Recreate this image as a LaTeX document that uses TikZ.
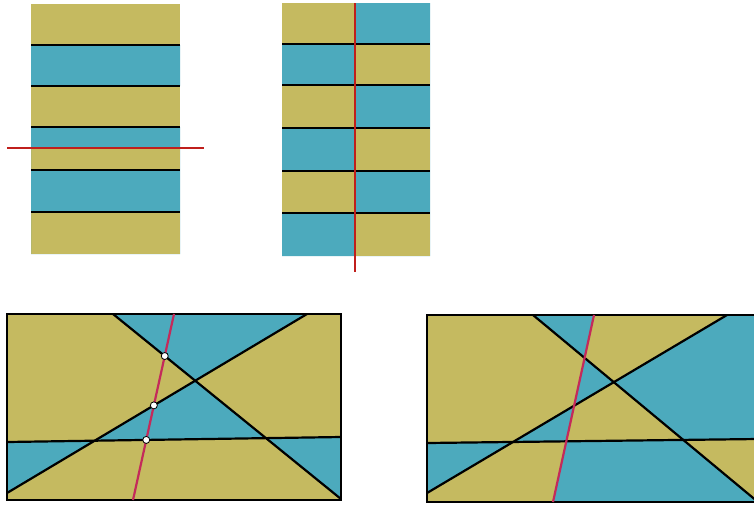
\documentclass[tikz,border=0pt]{standalone}
\usetikzlibrary{calc}
\definecolor{cyellow}{HTML}{C5BA60}
\definecolor{cblue}{HTML}{4CAABD}
\definecolor{cred}{HTML}{C01F1C}
\definecolor{cpink}{HTML}{C42A5A}
\tikzset{
  every picture/.style={line width=1.2pt},
  edge/.style={draw=black, line width=2.2pt},
  cut/.style={draw=#1, line width=2.2pt},
  cut/.default=cred,
  flip/.style={fill=cblue, even odd rule},
  dot/.style={circle, draw=black, fill=white, inner sep=0pt, minimum size=7pt, line width=0.8pt},
}
\begin{document}
\begin{tikzpicture}[x=1pt, y=-1pt]
  \useasboundingbox (0,0) rectangle (754,504);
  \clip (0,0) rectangle (754,504);

  \fill[cyellow] (31,4) rectangle (180,254);
  \fill[flip] (31,45) rectangle (180,86) (31,127) rectangle (180,170) (31,212) rectangle (180,254)
    (31,148) rectangle (180,254);
  \foreach \y in {45,86,127,170,212} \draw[edge] (31,\y) -- (180,\y);
  \coordinate (h1) at (7,148);
  \coordinate (h2) at (204,148);
  \draw[cut] (h1) -- (h2);

  \fill[cyellow] (282,3) rectangle (430,256);
  \fill[flip] (282,44) rectangle (430,85) (282,128) rectangle (430,171) (282,213) rectangle (430,256)
    (355,3) rectangle (430,256);
  \foreach \y in {44,85,128,171,213} \draw[edge] (282,\y) -- (430,\y);
  \coordinate (v1) at (355,3);
  \coordinate (v2) at (355,272);
  \draw[cut] (v1) -- (v2);

  \coordinate (la1) at (113,314);
  \coordinate (la2) at (341,499);
  \coordinate (lb1) at (7,493);
  \coordinate (lb2) at (307,314);
  \coordinate (lc1) at (7,442);
  \coordinate (lc2) at (341,437);
  \coordinate (lr1) at (174,314);
  \coordinate (lr2) at (133,500);
  \begin{scope}
    \clip (7,314) rectangle (341,500);
    \fill[cyellow] (7,314) rectangle (341,500);
    \fill[flip] (la1) -- (341,314) -- (la2) -- cycle
      (lb1) -- (lb2) -- (341,314) -- (341,500) -- (7,500) -- cycle
      (lc1) -- (lc2) -- (341,500) -- (7,500) -- cycle;
  \end{scope}
  \draw[edge] (la1) -- (la2);
  \draw[edge] (lb1) -- (lb2);
  \draw[edge] (lc1) -- (lc2);
  \draw[edge] (7,314) rectangle (341,500);
  \draw[cut=cpink] (lr1) -- (lr2);
  \node[dot] (lpa) at (intersection of la1--la2 and lr1--lr2) {};
  \node[dot] (lpb) at (intersection of lb1--lb2 and lr1--lr2) {};
  \node[dot] (lpc) at (intersection of lc1--lc2 and lr1--lr2) {};

  \coordinate (ra1) at (533,315);
  \coordinate (ra2) at (758,502);
  \coordinate (rb1) at (427,493);
  \coordinate (rb2) at (727,315);
  \coordinate (rc1) at (427,443);
  \coordinate (rc2) at (758,439);
  \coordinate (rr1) at (594,315);
  \coordinate (rr2) at (553,502);
  \begin{scope}
    \clip (427,315) rectangle (758,502);
    \fill[cyellow] (427,315) rectangle (758,502);
    \fill[flip] (ra1) -- (758,315) -- (ra2) -- cycle
      (rb1) -- (rb2) -- (758,315) -- (758,502) -- (427,502) -- cycle
      (rc1) -- (rc2) -- (758,502) -- (427,502) -- cycle
      (rr1) -- (758,315) -- (758,502) -- (rr2) -- cycle;
  \end{scope}
  \draw[edge] (ra1) -- (ra2);
  \draw[edge] (rb1) -- (rb2);
  \draw[edge] (rc1) -- (rc2);
  \draw[edge] (427,315) rectangle (758,502);
  \draw[cut=cpink] (rr1) -- (rr2);
\end{tikzpicture}
\end{document}
